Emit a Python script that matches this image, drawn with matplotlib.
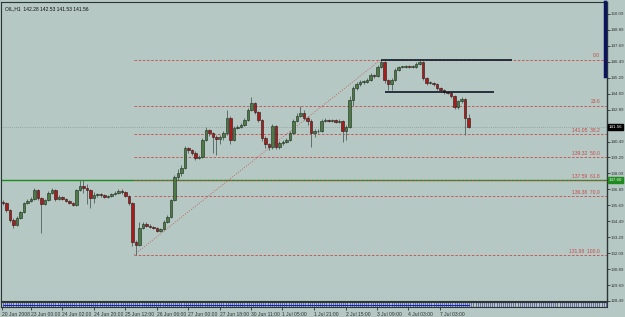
import matplotlib.pyplot as plt
import matplotlib.transforms as mtransforms
import numpy as np

plt.rcParams['font.family'] = ['Liberation Sans', 'DejaVu Sans']

# H1 candles, opens follow the previous close
first_open = 135.95
closes = [135.87, 135.34, 134.59, 134.21, 134.74, 135.19, 135.87, 136.02, 136.17, 136.84,
          136.24, 135.79, 136.09, 136.62, 136.84, 136.17, 136.32, 136.17, 136.02, 135.87,
          135.72, 136.84, 137.15, 136.99, 136.84, 136.24, 136.47, 136.54, 136.47, 136.32,
          136.39, 136.54, 136.62, 136.77, 136.69, 136.39, 135.87, 132.93, 132.71, 133.98,
          134.29, 134.14, 134.06, 133.98, 133.76, 133.91, 134.44, 134.81, 136.09, 137.82,
          138.12, 138.50, 140.00, 139.85, 139.63, 139.25, 139.33, 140.61, 141.36, 141.13,
          140.83, 140.68, 140.83, 141.13, 142.26, 140.61, 141.51, 141.59, 141.74, 142.11,
          142.87, 143.39, 142.71, 142.11, 140.76, 140.31, 140.08, 141.66, 140.08, 140.38,
          140.46, 140.61, 141.13, 142.04, 142.41, 142.64, 142.26, 142.04, 141.13, 141.28,
          141.28, 142.04, 142.11, 142.04, 142.11, 141.96, 142.04, 141.28, 141.59, 143.62,
          144.52, 144.82, 144.97, 144.97, 145.12, 145.50, 145.42, 146.10, 146.48, 145.12,
          144.82, 145.12, 145.88, 146.10, 146.10, 146.18, 146.10, 146.10, 146.33, 146.48,
          145.27, 144.90, 144.90, 144.82, 144.52, 144.37, 144.22, 144.14, 143.92, 143.09,
          143.54, 143.69, 142.28, 141.56]
highs = [136.10, 135.95, 135.45, 134.70, 134.85, 135.30, 135.95, 136.15, 136.30, 137.00,
         136.90, 136.30, 136.20, 136.75, 137.00, 136.90, 136.45, 136.40, 136.25, 136.10,
         135.95, 136.95, 137.62, 137.62, 137.30, 136.95, 136.70, 136.65, 136.62, 136.55,
         136.50, 136.65, 136.75, 136.95, 136.90, 136.80, 136.50, 135.95, 133.10, 134.40,
         134.45, 134.40, 134.25, 134.15, 134.05, 134.00, 134.55, 134.95, 136.20, 137.95,
         138.40, 138.70, 140.15, 140.10, 139.95, 139.75, 139.50, 140.75, 141.55, 141.45,
         141.20, 140.95, 141.00, 141.25, 142.87, 142.40, 141.65, 141.70, 141.85, 142.25,
         143.00, 143.84, 143.50, 142.80, 142.20, 140.90, 140.40, 141.80, 141.75, 140.50,
         140.60, 140.75, 141.25, 142.15, 142.60, 143.17, 142.90, 142.40, 142.15, 141.45,
         141.40, 142.15, 142.25, 142.20, 142.22, 142.20, 142.15, 142.10, 141.70, 143.90,
         144.70, 144.95, 145.10, 145.10, 145.25, 145.65, 145.60, 146.25, 146.66, 146.55,
         145.20, 145.25, 146.00, 146.20, 146.20, 146.28, 146.25, 146.22, 146.45, 146.63,
         146.55, 145.35, 145.05, 145.00, 144.90, 144.60, 144.45, 144.30, 144.25, 144.00,
         143.65, 143.84, 143.75, 142.53]
lows = [135.70, 135.20, 134.40, 133.98, 134.10, 134.65, 135.10, 135.80, 135.95, 136.10,
        136.10, 133.61, 135.70, 136.00, 136.55, 136.05, 136.10, 136.10, 135.95, 135.80,
        135.65, 135.65, 136.75, 136.60, 135.80, 135.49, 135.90, 136.35, 136.35, 136.25,
        136.25, 136.30, 136.45, 136.55, 136.55, 136.30, 135.70, 132.60, 131.98, 132.60,
        133.90, 134.05, 133.95, 133.90, 133.65, 133.65, 133.85, 134.35, 134.70, 136.00,
        137.60, 137.90, 138.40, 139.60, 139.45, 139.10, 139.15, 139.25, 140.50, 140.90,
        139.60, 139.50, 140.30, 140.60, 141.00, 140.30, 140.50, 141.40, 141.50, 141.65,
        142.00, 142.80, 142.55, 141.95, 140.50, 140.00, 139.85, 139.95, 139.90, 139.95,
        140.25, 140.35, 140.50, 141.05, 141.95, 142.30, 142.10, 141.70, 140.08, 140.80,
        141.15, 141.20, 141.95, 141.95, 141.95, 141.85, 141.85, 140.46, 140.60, 141.50,
        143.20, 144.40, 144.70, 144.85, 144.90, 145.05, 145.30, 145.35, 146.00, 144.90,
        144.37, 144.37, 145.05, 145.80, 146.00, 146.05, 146.00, 146.00, 146.05, 146.25,
        145.15, 144.75, 144.80, 144.70, 144.40, 144.25, 144.10, 144.05, 143.80, 142.95,
        142.95, 143.40, 140.98, 141.53]

title = 'OIL,H1  142.28 142.53 141.53 141.56'
bid = 141.56
green_level = 137.60

# Fibonacci retracement (low bar -> high bar)
fib_start, fib_end = 38, 108
fib_low, fib_high = 131.98, 146.66
fib_prices = [146.66, 143.20, 141.05, 139.32, 137.59, 136.38, 131.98]
fib_labels = ['0.0', '23.6', '141.05  38.2', '139.32  50.0', '137.59  61.8',
              '136.38  70.0', '131.98  100.0']

# two dark trend lines drawn at the top
box_lines = [(108, 145.4, 146.66), (109, 140.3, 144.22)]

time_ticks = [-0.4, 8.0, 16.8, 26.0, 34.8, 44.0, 52.8, 62.0, 70.8, 79.7, 88.8, 98.0,
              106.8, 115.7, 124.8]
time_labels = ['20 Jun 2008', '23 Jun 00:00', '24 Jun 02:00', '24 Jun 20:00',
               '25 Jun 12:00', '26 Jun 06:00', '27 Jun 00:00', '27 Jun 18:00',
               '30 Jun 11:00', '1 Jul 05:00', '1 Jul 21:00', '2 Jul 15:00',
               '3 Jul 09:00', '4 Jul 03:00', '7 Jul 03:00']

# 141.69 sits under the bid tag, so it is left out
price_ticks = [150.09, 148.89, 147.69, 146.49, 145.29, 144.09, 142.89, 140.49,
               139.29, 138.09, 136.89, 135.69, 134.49, 133.29, 132.09, 130.89, 129.69,
               128.49]

bg = '#b5c8c4'
dark = '#2c3634'
fs = 3.6
fs_y = 3.2

fig = plt.figure(figsize=(6.25, 3.17), dpi=100, facecolor=bg)
ax = fig.add_axes([1 / 625, 1 - 301 / 317, 606 / 625, 299 / 317], facecolor=bg)
ax2 = fig.add_axes([1 / 625, 1 - 307 / 317, 606 / 625, 5 / 317], facecolor=bg)

xmin, xmax = -0.57, 172.57
ax.set_xlim(xmin, xmax)
ax.set_ylim(128.49, 150.99)

opens = [first_open] + closes[:-1]
x = np.arange(len(closes))
o = np.array(opens)
c = np.array(closes)
up = c >= o

ax.vlines(x, lows, highs, color='#5e6e6b', lw=0.7, zorder=3)
body_lo = np.minimum(o, c)
body_h = np.maximum(np.abs(c - o), 0.04)
ax.bar(x[up], body_h[up], bottom=body_lo[up], width=0.6, color='#4d7a45',
       edgecolor='#1d2a1d', lw=0.4, zorder=4)
ax.bar(x[~up], body_h[~up], bottom=body_lo[~up], width=0.6, color='#a81c1c',
       edgecolor='#2a1414', lw=0.4, zorder=4)

# reference lines
ax.axhline(green_level, color='#1f8a1f', lw=1.0, zorder=2)
ax.axhline(bid, color='#8a9c99', lw=0.6, ls=(0, (1, 1.5)), zorder=2)

for p, lab in zip(fib_prices, fib_labels):
    ax.hlines(p, fib_start - 0.5, xmax, color='#c84a4a', lw=0.6, ls=(0, (3, 2)), zorder=2)
    ax.text(170.6, p + 0.08, lab, color='#c84a4a', fontsize=fs, ha='right', va='bottom',
            zorder=5)
ax.plot([fib_start - 0.5, fib_end], [fib_low, fib_high], color='#c84a4a', lw=0.6,
        ls=(0, (1, 2)), zorder=2)

for x0, x1, p in box_lines:
    ax.hlines(p, x0, x1, color='#101828', lw=1.2, zorder=5)

ax.text(0.006, 0.985, title, transform=ax.transAxes, fontsize=fs, color='#101010',
        ha='left', va='top')

# price axis on the right
ax.yaxis.tick_right()
ax.set_yticks(price_ticks)
ax.set_yticklabels(['%.2f' % t for t in price_ticks])
ax.tick_params(axis='y', labelsize=fs_y, length=1.8, width=0.6, pad=0.8, colors=dark)
ax.set_xticks([])
for s in ax.spines.values():
    s.set_color(dark)
    s.set_linewidth(0.8)
ax.spines['right'].set_linewidth(1.0)

trans = mtransforms.blended_transform_factory(ax.transAxes, ax.transData)
ax.plot([0.997, 0.997], [145.4, 150.99], transform=trans, color='#0c1460', lw=2.5,
        clip_on=False, zorder=6)
ax.text(1.003, bid, '%.2f' % bid, transform=trans, fontsize=fs_y, color='white',
        ha='left', va='center', zorder=7,
        bbox=dict(boxstyle='square,pad=0.2', fc='black', ec='black'))
ax.text(1.003, green_level, '%.2f' % green_level, transform=trans, fontsize=fs_y,
        color='white', ha='left', va='center', zorder=7,
        bbox=dict(boxstyle='square,pad=0.2', fc='#1f8a1f', ec='#1f8a1f'))

# thin indicator window at the bottom
ax2.set_xlim(xmin, xmax)
ax2.set_ylim(0, 1)
ax2.vlines(np.arange(0, xmax, 0.6), 0.05, 0.95, color='#4a4a9a', lw=0.5)
ax2.plot(x, np.full(len(x), 0.5), color='#1020d0', lw=0.8)
ax2.set_yticks([])
ax2.set_xticks(time_ticks)
ax2.set_xticklabels(time_labels)
for t in ax2.get_xticklabels():
    t.set_horizontalalignment('left')
ax2.tick_params(axis='x', labelsize=fs, length=2, width=0.6, pad=1.5, colors=dark)
for s in ax2.spines.values():
    s.set_color(dark)
    s.set_linewidth(0.8)

fig.savefig('out.png', dpi=100, facecolor=bg)
